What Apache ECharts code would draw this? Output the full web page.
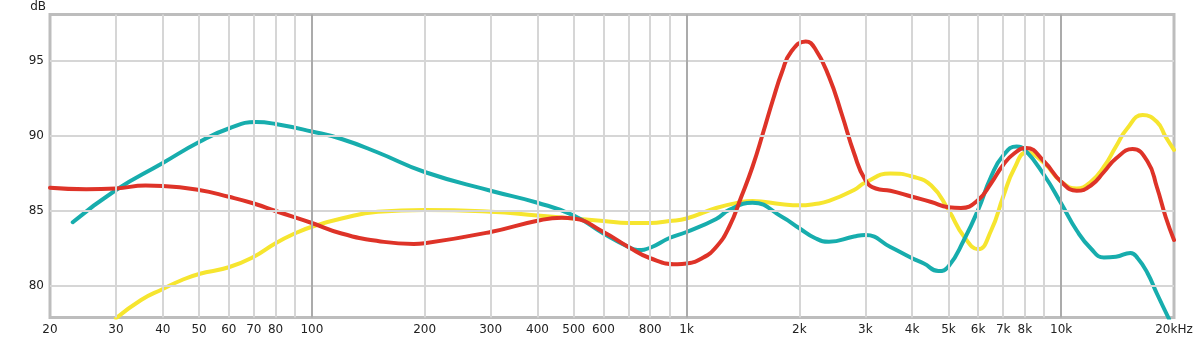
<!DOCTYPE html>
<html>
<head>
<meta charset="utf-8">
<script src="https://cdn.jsdelivr.net/npm/echarts@6/dist/echarts.min.js"></script>
<style>
  html, body { margin: 0; padding: 0; background: #fff; }
  #chart { width: 1198px; height: 337px; }
</style>
</head>
<body>
<div id="chart"></div>
<script>
// Frequency response curves (Hz vs dB)
const tealFreq = [23, 30, 40, 50, 60, 71, 80, 100, 120, 150, 200, 300, 400, 500, 600, 700, 740, 800, 900, 1000, 1200, 1300, 1500, 1800, 2000, 2200, 2400, 2800, 3000, 3500, 4000, 4300, 4700, 5000, 5500, 6000, 6500, 7000, 7600, 8000, 9000, 10000, 11000, 12000, 13000, 14000, 15300, 16000, 17000, 18000, 19400];
const tealDb = [84.25, 86.4, 88.2, 89.6, 90.5, 90.93, 90.8, 90.3, 89.8, 88.9, 87.6, 86.35, 85.55, 84.7, 83.5, 82.6, 82.4, 82.55, 83.2, 83.6, 84.47, 85.07, 85.55, 84.6, 83.85, 83.2, 82.95, 83.3, 83.4, 82.6, 81.85, 81.5, 81.0, 81.3, 83.07, 85.07, 87.3, 88.7, 89.3, 89.07, 87.4, 85.5, 83.7, 82.5, 81.9, 81.95, 82.2, 81.85, 80.85, 79.5, 77.8];

const yellowFreq = [30, 35, 40, 45, 50, 60, 70, 80, 90, 100, 120, 150, 200, 300, 400, 500, 600, 700, 800, 900, 1000, 1200, 1400, 1500, 1800, 2000, 2200, 2400, 2800, 3000, 3500, 4000, 4500, 5000, 5500, 6000, 6500, 7000, 7500, 8100, 9000, 10000, 11000, 12000, 13000, 14000, 15000, 16500, 18000, 19000, 20000];
const yellowDb = [77.85, 79.07, 79.8, 80.4, 80.8, 81.25, 81.95, 82.85, 83.5, 83.95, 84.5, 84.95, 85.07, 84.95, 84.7, 84.5, 84.33, 84.2, 84.2, 84.33, 84.5, 85.2, 85.6, 85.67, 85.45, 85.38, 85.47, 85.67, 86.4, 86.9, 87.5, 87.3, 86.7, 85.07, 83.3, 82.45, 83.7, 85.95, 87.85, 88.9, 88.2, 86.95, 86.5, 86.95, 87.95, 89.3, 90.5, 91.4, 90.95, 89.95, 89.07];

const redFreq = [20, 25, 30, 36, 40, 50, 60, 70, 80, 100, 120, 150, 187, 200, 300, 400, 465, 500, 600, 700, 800, 945, 1000, 1100, 1200, 1300, 1400, 1500, 1600, 1700, 1800, 1900, 2080, 2200, 2400, 2600, 2800, 3000, 3200, 3500, 4000, 4500, 5000, 5400, 6000, 6500, 7000, 7500, 8060, 9000, 10000, 11000, 12000, 13000, 14000, 15500, 17000, 18000, 19000, 20000];
const redDb = [86.55, 86.45, 86.5, 86.7, 86.67, 86.4, 85.95, 85.5, 85.0, 84.2, 83.5, 83.0, 82.8, 82.85, 83.6, 84.35, 84.55, 84.5, 83.6, 82.6, 81.85, 81.45, 81.5, 81.85, 82.6, 83.95, 85.95, 87.95, 90.2, 92.4, 94.3, 95.6, 96.3, 95.85, 93.95, 91.4, 88.85, 87.07, 86.5, 86.35, 85.95, 85.6, 85.25, 85.2, 85.73, 86.85, 88.07, 88.85, 89.2, 88.3, 86.95, 86.35, 86.7, 87.6, 88.5, 89.13, 88.3, 86.6, 84.6, 83.07];

// Axis labels and grid positions
const freqTickLabels = [20, 30, 40, 50, 60, 70, 80, 100, 200, 300, 400, 500, 600, 800, 1000, 2000, 3000, 4000, 5000, 6000, 7000, 8000, 10000, 20000];
const freqGridMinor = [30, 40, 50, 60, 70, 80, 90, 200, 300, 400, 500, 600, 700, 800, 900, 2000, 3000, 4000, 5000, 6000, 7000, 8000, 9000];
const freqGridDecade = [100, 1000, 10000];
const dbTicks = [80, 85, 90, 95];

const zip = (xs, ys) => xs.map((x, i) => [x, ys[i]]);

const minorColor = '#d6d6d6';
const decadeColor = '#ababab';

const gridLines = []
  .concat(dbTicks.map(v => ({ yAxis: v, lineStyle: { color: minorColor, width: 2 } })))
  .concat(freqGridMinor.map(v => ({ xAxis: v, lineStyle: { color: minorColor, width: 2 } })))
  .concat(freqGridDecade.map(v => ({ xAxis: v, lineStyle: { color: decadeColor, width: 2 } })));

function freqLabel(v) {
  const r = Math.round(v);
  if (r === 20000) return '20kHz';
  if (r >= 1000) return (r / 1000) + 'k';
  return String(r);
}

const chart = echarts.init(document.getElementById('chart'), null, { renderer: 'canvas' });

const curveStyle = (color) => ({
  type: 'line',
  smooth: 0.5,
  showSymbol: false,
  symbol: 'none',
  z: 3,
  clip: true,
  lineStyle: { color: color, width: 4, cap: 'round', join: 'round' },
  emphasis: { disabled: true },
  silent: true
});

chart.setOption({
  animation: false,
  backgroundColor: '#ffffff',
  textStyle: { fontFamily: 'DejaVu Sans' },
  grid: {
    left: 50, right: 24, top: 14.5, bottom: 19.5,
    show: true,
    borderColor: '#bdbdbd',
    borderWidth: 3,
    backgroundColor: 'transparent'
  },
  xAxis: {
    type: 'log',
    logBase: 10,
    min: 20,
    max: 20000,
    axisLine: { show: false },
    axisTick: { show: false },
    splitLine: { show: false },
    axisLabel: {
      customValues: freqTickLabels,
      formatter: freqLabel,
      color: '#222',
      fontSize: 12,
      margin: 6,
      showMinLabel: true,
      showMaxLabel: true,
      hideOverlap: false
    }
  },
  yAxis: {
    type: 'value',
    min: 77.9,
    max: 98.1,
    name: 'dB',
    nameLocation: 'end',
    nameGap: 2,
    nameTextStyle: { color: '#222', fontSize: 12, align: 'right', padding: [0, 4, 0, 0] },
    axisLine: { show: false },
    axisTick: { show: false },
    splitLine: { show: false },
    axisLabel: {
      customValues: dbTicks,
      color: '#222',
      fontSize: 12,
      margin: 6
    }
  },
  series: [
    {
      type: 'line',
      name: 'grid',
      data: [],
      z: 1,
      silent: true,
      markLine: {
        silent: true,
        animation: false,
        symbol: ['none', 'none'],
        label: { show: false },
        emphasis: { disabled: true },
        lineStyle: { type: 'solid' },
        data: gridLines
      }
    },
    Object.assign(curveStyle('#f6e52f'), { name: 'yellow', data: zip(yellowFreq, yellowDb) }),
    Object.assign(curveStyle('#17adad'), { name: 'teal', data: zip(tealFreq, tealDb) }),
    Object.assign(curveStyle('#de3328'), { name: 'red', data: zip(redFreq, redDb) })
  ]
});
</script>
</body>
</html>
